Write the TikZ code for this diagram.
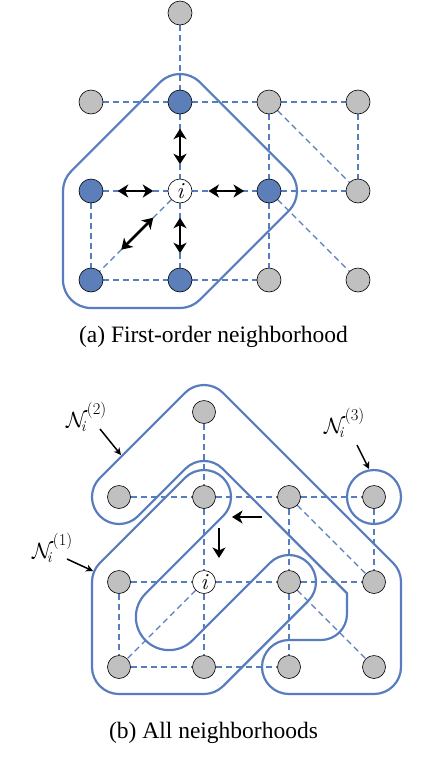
\RequirePackage{fix-cm}
\documentclass[tikz,border=0pt]{standalone}
\usepackage[no-math]{fontspec}
\newfontfamily\capfont{Liberation Serif}
\usetikzlibrary{calc,arrows.meta}
\definecolor{hb}{RGB}{88,125,190}
\definecolor{nb}{RGB}{92,127,186}
\definecolor{ng}{RGB}{192,192,192}
\pgfdeclarelayer{bg}
\pgfsetlayers{bg,main}
\newcommand\nlab[1]{\mbox{$\mathcal{N}$}\kern-6.5pt\raisebox{-4.5pt}{\fontsize{15}{15}\selectfont\itshape i}\kern1.5pt\raisebox{13pt}{\fontsize{16.5}{16.5}\selectfont(#1)}}
\begin{document}
\begin{tikzpicture}[x=1pt,y=-1pt,
  nd/.style={circle,draw=black,line width=0.6pt,inner sep=0pt,minimum size=24pt},
  gn/.style={nd,fill=ng},
  bn/.style={nd,fill=nb},
  wn/.style={nd,fill=white,font=\fontsize{23}{23}\selectfont\itshape},
  sgn/.style={gn,minimum size=23pt},
  swn/.style={wn,minimum size=23pt},
  gedge/.style={draw=hb,line width=1.4pt,dash pattern=on 6pt off 4pt},
  hull/.style={draw=hb,line width=2.2pt,line join=round},
  dbl/.style={<->,>={Stealth[length=10.5pt,width=13pt,inset=3pt]},line width=2.7pt},
  sgl/.style={->,>={Stealth[length=10.5pt,width=13pt,inset=3pt]},line width=2.7pt},
  lab/.style={font=\fontsize{22}{22}\selectfont,inner sep=0pt,anchor=base west},
  lar/.style={->,>={Stealth[length=7pt,width=7pt,inset=2pt]},line width=1.5pt},
  captext/.style={font=\capfont\fontsize{23.5}{27}\selectfont,anchor=base,inner sep=0pt}]
\useasboundingbox (0,0) rectangle (422,780);

% ---------- top diagram ----------
\node[gn] (t0)  at (180,13) {};
\node[gn] (ta1) at (91,102) {};
\node[bn] (tb1) at (180,102) {};
\node[gn] (tc1) at (269,102) {};
\node[gn] (td1) at (358,102) {};
\node[bn] (ta2) at (91,191) {};
\node[wn] (ti)  at (180,191) {i};
\node[bn] (tc2) at (269,191) {};
\node[gn] (td2) at (358,191) {};
\node[bn] (ta3) at (91,280) {};
\node[bn] (tb3) at (180,280) {};
\node[gn] (tc3) at (269,280) {};
\node[gn] (td3) at (358,280) {};

\begin{pgfonlayer}{bg}
\draw[gedge] (t0)--(tb1);
\draw[gedge] (ta1)--(tb1); \draw[gedge] (tb1)--(tc1); \draw[gedge] (tc1)--(td1);
\draw[gedge] (ta2)--(ti); \draw[gedge] (ti)--(tc2); \draw[gedge] (tc2)--(td2);
\draw[gedge] (ta3)--(tb3); \draw[gedge] (tb3)--(tc3);
\draw[gedge] (ta2)--(ta3); \draw[gedge] (tb1)--(ti); \draw[gedge] (ti)--(tb3);
\draw[gedge] (tc1)--(tc2); \draw[gedge] (tc2)--(tc3); \draw[gedge] (td1)--(td2);
\draw[gedge] (tc1)--(td2); \draw[gedge] (tc2)--(td3); \draw[gedge] (ti)--(ta3);
\draw[hull] ($(tb1)+(-45:28)$) -- ($(tc2)+(-45:28)$) arc[start angle=-45,end angle=45,radius=28]
  -- ($(tb3)+(45:28)$) arc[start angle=45,end angle=90,radius=28]
  -- ($(ta3)+(90:28)$) arc[start angle=90,end angle=180,radius=28]
  -- ($(ta2)+(180:28)$) arc[start angle=180,end angle=225,radius=28]
  -- ($(tb1)+(225:28)$) arc[start angle=225,end angle=315,radius=28] -- cycle;
\end{pgfonlayer}

\draw[dbl] ($(ti)!0.3!(tb1)$) -- ($(ti)!0.7!(tb1)$);
\draw[dbl] ($(ti)!0.3!(ta2)$) -- ($(ti)!0.7!(ta2)$);
\draw[dbl] ($(ti)!0.32!(tc2)$) -- ($(ti)!0.72!(tc2)$);
\draw[dbl] ($(ti)!0.3!(tb3)$) -- ($(ti)!0.7!(tb3)$);
\draw[dbl] ($(ti)!0.3!(ta3)$) -- ($(ti)!0.66!(ta3)$);

\node[captext] (capa) at (213.5,342) {(a) First-order neighborhood};

% ---------- bottom diagram ----------
\node[sgn] (T)  at (204,412) {};
\node[sgn] (a1) at (119,497) {};
\node[sgn] (b1) at (204,497) {};
\node[sgn] (c1) at (289,497) {};
\node[sgn] (d1) at (374,497) {};
\node[sgn] (a2) at (119,582) {};
\node[swn] (bi) at (204,582) {i};
\node[sgn] (c2) at (289,582) {};
\node[sgn] (d2) at (374,582) {};
\node[sgn] (a3) at (119,667) {};
\node[sgn] (b3) at (204,667) {};
\node[sgn] (c3) at (289,667) {};
\node[sgn] (d3) at (374,667) {};
\coordinate (P) at (169,617);
\coordinate (K2) at (204,486.95);
\coordinate (K3) at (321,614);
\coordinate (K4) at (347,593.2);

\begin{pgfonlayer}{bg}
\draw[gedge] (T)--(b1);
\draw[gedge] (a1)--(b1); \draw[gedge] (b1)--(c1); \draw[gedge] (c1)--(d1);
\draw[gedge] (a2)--(bi); \draw[gedge] (bi)--(c2); \draw[gedge] (c2)--(d2);
\draw[gedge] (a3)--(b3); \draw[gedge] (b3)--(c3);
\draw[gedge] (a2)--(a3); \draw[gedge] (b1)--(bi); \draw[gedge] (bi)--(b3);
\draw[gedge] (c1)--(c2); \draw[gedge] (c2)--(c3); \draw[gedge] (d1)--(d2);
\draw[gedge] (c1)--(d2); \draw[gedge] (c2)--(d3); \draw[gedge] (bi)--(a3);
% N(1)
\draw[hull] ($(b1)+(45:27)$) -- ($(P)+(225:33.11)$) arc[start angle=225,end angle=45,radius=33.11]
  -- ($(c2)+(225:27)$) arc[start angle=225,end angle=405,radius=27]
  -- ($(b3)+(45:27)$) arc[start angle=45,end angle=90,radius=27]
  -- ($(a3)+(90:27)$) arc[start angle=90,end angle=180,radius=27]
  -- ($(a2)+(180:27)$) arc[start angle=180,end angle=225,radius=27]
  -- ($(b1)+(225:27)$) arc[start angle=225,end angle=405,radius=27] -- cycle;
% N(2)
\draw[hull] ($(T)+(225:27)$) arc[start angle=225,end angle=315,radius=27]
  -- ($(d2)+(315:27)$) arc[start angle=315,end angle=360,radius=27]
  -- ($(d3)+(0:27)$) arc[start angle=0,end angle=90,radius=27]
  -- ($(c3)+(90:27)$) arc[start angle=90,end angle=270,radius=27]
  -- ($(K3)+(90:26)$) arc[start angle=90,end angle=0,radius=26]
  -- (K4)
  -- ($(K2)+(315:26)$) arc[start angle=315,end angle=225,radius=26]
  -- ($(a1)+(45:27)$) arc[start angle=45,end angle=225,radius=27] -- cycle;
% N(3)
\draw[hull] (d1) circle[radius=27];
\end{pgfonlayer}

\coordinate (ba1) at (262,517); \coordinate (ba2) at (232,517);
\coordinate (bd1) at (219,528); \coordinate (bd2) at (219,558);
\draw[sgl] (ba1) -- (ba2);
\draw[sgl] (bd1) -- (bd2);

\node[lab] (n2) at (66,427) {\nlab{2}};
\node[lab] (n1) at (32,558) {\nlab{1}};
\node[lab] (n3) at (324,433) {\nlab{3}};
\coordinate (n2s) at (100,429); \coordinate (n2e) at (121,455);
\coordinate (n1s) at (67,559);  \coordinate (n1e) at (93,571);
\coordinate (n3s) at (357,445); \coordinate (n3e) at (369,469);
\draw[lar] (n2s) -- (n2e);
\draw[lar] (n1s) -- (n1e);
\draw[lar] (n3s) -- (n3e);

\node[captext] (capb) at (213.5,738) {(b) All neighborhoods};
\end{tikzpicture}
\end{document}
